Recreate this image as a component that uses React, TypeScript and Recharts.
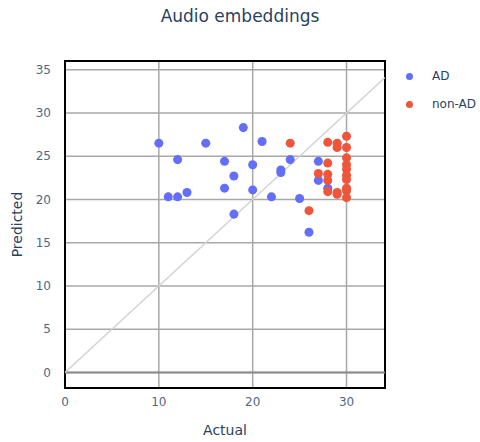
import {
  ScatterChart,
  Scatter,
  XAxis,
  YAxis,
  ZAxis,
  CartesianGrid,
  ReferenceLine,
  ReferenceArea,
  Legend,
  Label,
} from "recharts";

// 실제 점수 vs 예측 점수
const adActual = [10, 15, 19, 21, 12, 17, 20, 24, 23, 23, 18, 17, 20, 11, 12, 13, 22, 25, 18, 26, 27, 27, 28];
const adPredicted = [26.5, 26.5, 28.3, 26.7, 24.6, 24.4, 24.0, 24.6, 23.4, 23.1, 22.7, 21.3, 21.1, 20.3, 20.3, 20.8, 20.3, 20.1, 18.3, 16.2, 24.4, 22.2, 21.3];

const nonAdActual = [24, 28, 29, 29, 30, 30, 30, 30, 30, 30, 30, 30, 30, 30, 28, 27, 28, 28, 28, 29, 29, 26];
const nonAdPredicted = [26.5, 26.6, 26.5, 26.0, 27.3, 26.0, 24.8, 24.0, 23.5, 22.8, 22.3, 21.3, 21.0, 20.2, 24.2, 23.0, 22.9, 22.2, 20.9, 20.8, 20.6, 18.7];

const xTicks = [0, 10, 20, 30];
const yTicks = [0, 5, 10, 15, 20, 25, 30, 35];
const xDomain: [number, number] = [0, 34.1];
const yDomain: [number, number] = [-1.8, 36];

const toPoints = (xs: number[], ys: number[]) => xs.map((x, i) => ({ x, y: ys[i] }));

const AD_COLOR = "#636efa";
const NON_AD_COLOR = "#EF553B";
const FONT = "'DejaVu Sans', verdana, arial, sans-serif";
const TEXT_COLOR = "#2a3f5f";
const TICK_COLOR = "#506784";

function LegendBox() {
  const items = [
    { name: "AD", color: AD_COLOR },
    { name: "non-AD", color: NON_AD_COLOR },
  ];
  return (
    <div style={{ fontFamily: FONT, fontSize: 12, color: TEXT_COLOR }}>
      {items.map((it) => (
        <div key={it.name} style={{ display: "flex", alignItems: "center", height: 28 }}>
          <span
            style={{
              display: "inline-block",
              width: 7,
              height: 7,
              borderRadius: "50%",
              background: it.color,
              marginLeft: 6,
              marginRight: 19,
            }}
          />
          <span>{it.name}</span>
        </div>
      ))}
    </div>
  );
}

export default function App() {
  return (
    <div style={{ position: "absolute", left: 0, top: 0, width: 480, height: 442, background: "#fff" }}>
      <div
        style={{
          position: "absolute",
          top: 6,
          left: 0,
          width: 480,
          textAlign: "center",
          fontFamily: FONT,
          fontSize: 17,
          color: TEXT_COLOR,
        }}
      >
        Audio embeddings
      </div>
      <ScatterChart width={480} height={442} margin={{ top: 61, right: 15, left: 0, bottom: 0 }}>
        <CartesianGrid stroke="#a8a8a8" strokeWidth={1.5} />
        <XAxis
          type="number"
          dataKey="x"
          domain={xDomain}
          ticks={xTicks}
          allowDataOverflow
          height={54}
          axisLine={false}
          tickLine={false}
          tickMargin={3}
          tick={{ fontSize: 12, fill: TICK_COLOR, fontFamily: FONT }}
        >
          <Label
            value="Actual"
            position="insideBottom"
            offset={7}
            style={{ fontSize: 14, fill: TEXT_COLOR, fontFamily: FONT }}
          />
        </XAxis>
        <YAxis
          type="number"
          dataKey="y"
          domain={yDomain}
          ticks={yTicks}
          allowDataOverflow
          width={65}
          axisLine={false}
          tickLine={false}
          tickMargin={8}
          tick={{ fontSize: 12, fill: TICK_COLOR, fontFamily: FONT }}
        >
          <Label
            value="Predicted"
            angle={-90}
            position="insideLeft"
            offset={17}
            textAnchor="middle"
            style={{ fontSize: 14, fill: TEXT_COLOR, fontFamily: FONT }}
          />
        </YAxis>
        <ZAxis range={[40, 40]} />
        <ReferenceLine y={0} stroke="#8a8a8a" strokeWidth={2} />
        <ReferenceLine
          segment={[
            { x: 0, y: 0 },
            { x: 34.1, y: 34.1 },
          ]}
          stroke="#d3d3d3"
          strokeWidth={1.5}
          ifOverflow="hidden"
        />
        <Legend
          verticalAlign="top"
          align="right"
          layout="vertical"
          content={() => <LegendBox />}
          wrapperStyle={{ position: "absolute", left: 400, top: 62, width: 80 }}
        />
        <Scatter
          name="AD"
          data={toPoints(adActual, adPredicted)}
          fill={AD_COLOR}
          shape="circle"
          isAnimationActive={false}
        />
        <Scatter
          name="non-AD"
          data={toPoints(nonAdActual, nonAdPredicted)}
          fill={NON_AD_COLOR}
          shape="circle"
          isAnimationActive={false}
        />
        <ReferenceArea
          x1={xDomain[0]}
          x2={xDomain[1]}
          y1={yDomain[0]}
          y2={yDomain[1]}
          fill="none"
          stroke="#000"
          strokeWidth={2}
          ifOverflow="visible"
        />
      </ScatterChart>
    </div>
  );
}
